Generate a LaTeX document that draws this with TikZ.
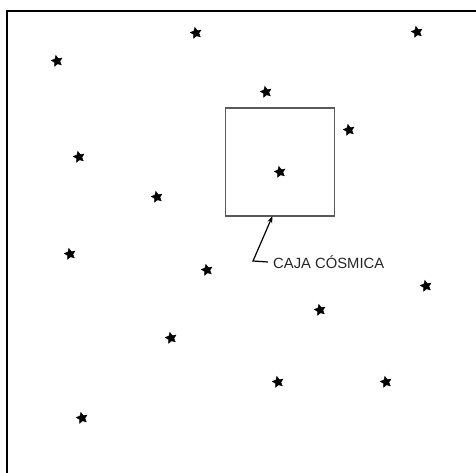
\documentclass[tikz,border=0pt]{standalone}
\usepackage{fontspec}
\setmainfont{Liberation Sans}
\usetikzlibrary{shapes.geometric,arrows.meta}
\begin{document}
\begin{tikzpicture}[x=1pt,y=-1pt,
  starmark/.style={star,star points=5,star point ratio=2.0,fill=black,draw=black,line width=0.4pt,inner sep=0pt,minimum size=11.5pt,rotate=12},
  cbox/.style={draw=black!65,line width=1.1pt,fill=none},
  lbl/.style={font=\fontsize{14.8}{16}\selectfont,text=black!85,inner sep=0pt,anchor=west}]
\useasboundingbox (0,0) rectangle (476,473);
\draw[line width=2pt,black] (7,473) -- (7,11) -- (476,11);
\foreach \n/\x/\y in {s1/196/33,s2/417/32,s3/57/61,s4/266/92,s5/349/130,s6/79/157,s8/157/197,s9/70/254,s10/207/270,s11/426/286,s12/320/310,s13/171/338,s14/278/382,s15/386/382,s16/82/418}
  \node[starmark] (\n) at (\x,\y) {};
\node[cbox,minimum width=109pt,minimum height=108pt,inner sep=0pt] (box) at (280,162) {};
\node[starmark] (s7) at (280,172) {};
\node[lbl] (lab) at (273,262) {CAJA CÓSMICA};
\coordinate (elb) at (253,261);
\coordinate (tip) at (272.5,216);
\draw[line width=1.2pt,-{Stealth[length=7pt,width=5pt]}] ([xshift=-5pt]lab.west) -- (elb) -- (tip);
\end{tikzpicture}
\end{document}
